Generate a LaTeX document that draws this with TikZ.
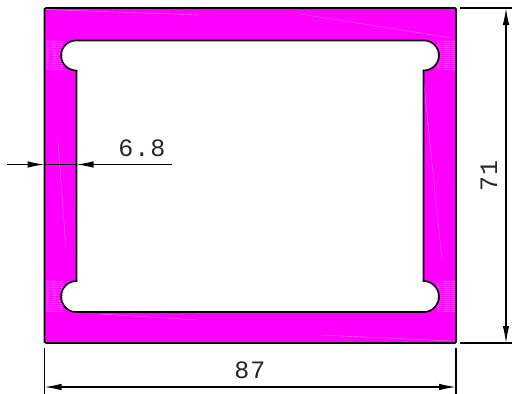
\documentclass[tikz,border=0pt]{standalone}
\usepackage{fontspec}
\setmonofont[LetterSpace=4]{Liberation Mono}
\usetikzlibrary{arrows.meta}
\definecolor{sect}{RGB}{255,0,255}
\definecolor{sectlight}{RGB}{255,110,255}
\tikzset{
  outline/.style={draw=black,line width=1.6pt},
  dimline/.style={draw=black,line width=1.2pt},
  dimarrow/.style={dimline,-{Latex[length=17pt,width=6.5pt]}},
  dimboth/.style={dimline,{Latex[length=17pt,width=6.5pt]}-{Latex[length=17pt,width=6.5pt]}},
  dimtext/.style={font=\ttfamily\fontsize{25}{27}\selectfont,inner sep=0pt,text=black!85},
  streak/.style={draw=sectlight,line width=.6pt},
  faint/.style={draw=sectlight,line width=.4pt}
}
\def\outerpath{(46,8) -- (455,8) -- (456,9) -- (456,342) -- (455,343) -- (46,343) -- (44.5,342) -- (44.5,9) -- cycle}
\def\innerpath{(76,40.5) -- (424,40.5) .. controls (432.25,40.5) and (439,47.25) .. (439,55.5) .. controls (439,63.75) and (432,70.5) .. (423.5,70.5)
  -- (423.5,281) .. controls (432,281) and (439,288.25) .. (439,296.5) .. controls (439,304.75) and (432.25,312) .. (424,312)
  -- (76,312) .. controls (67.75,312) and (61,304.75) .. (61,296.5) .. controls (61,288.25) and (68,281) .. (76.5,281)
  -- (76.5,70.5) .. controls (68,70.5) and (61,63.75) .. (61,55.5) .. controls (61,47.25) and (67.75,40.5) .. (76,40.5) -- cycle}
\begin{document}
\begin{tikzpicture}[x=1pt,y=-1pt]
\useasboundingbox (0,0) rectangle (512,394);
\fill[white] (0,0) rectangle (512,394);
% section
\fill[sect,even odd rule] \outerpath \innerpath;
% hatch artefacts
\foreach \y in {41,43,...,70}{
  \draw[streak] (46,\y) -- (63,\y+.5);
  \draw[streak] (437,\y) -- (455,\y+.5);
}
\foreach \y in {281,283,...,311}{
  \draw[streak] (46,\y) -- (63,\y+.5);
  \draw[streak] (437,\y) -- (455,\y+.5);
}
\draw[faint] (46,9.5) -- (200,15);
\draw[faint] (300,14) -- (452,38);
\draw[faint] (100,314) -- (200,320);
\draw[faint] (320,335) -- (452,341);
\draw[faint] (58,140) -- (66,250);
\draw[faint] (424,85) -- (442,260);
% outlines
\draw[outline] \outerpath;
\draw[outline] \innerpath;
% named points
\coordinate (tl) at (460,8); \coordinate (tr) at (512,8);
\coordinate (bl) at (460,343); \coordinate (br) at (512,343);
\coordinate (vt) at (506,8); \coordinate (vb) at (506,343);
\coordinate (lt) at (44.5,348); \coordinate (lb) at (44.5,394);
\coordinate (rt) at (456,348); \coordinate (rb) at (456,394);
\coordinate (ha) at (44.5,387); \coordinate (hb) at (456,387);
\coordinate (wl) at (7,164.5); \coordinate (wa) at (44.5,164.5);
\coordinate (wb) at (76.5,164.5); \coordinate (wr) at (172,164.5);
% dimension 71
\draw[dimline] (tl) -- (tr);
\draw[dimline] (bl) -- (br);
\draw[dimboth] (vt) -- (vb);
\node[dimtext,rotate=90] (dimh) at (489,175.5) {71};
% dimension 87
\draw[dimline] (lt) -- (lb);
\draw[dimline] (rt) -- (rb);
\draw[dimboth] (ha) -- (hb);
\node[dimtext] (dimw) at (250,370) {87};
% dimension 6.8
\draw[dimarrow] (wl) -- (wa);
\draw[dimarrow] (wr) -- (wb);
\draw[dimline] (wa) -- (wb);
\node[dimtext] (dimt) at (142,148) {6.8};
\end{tikzpicture}
\end{document}
